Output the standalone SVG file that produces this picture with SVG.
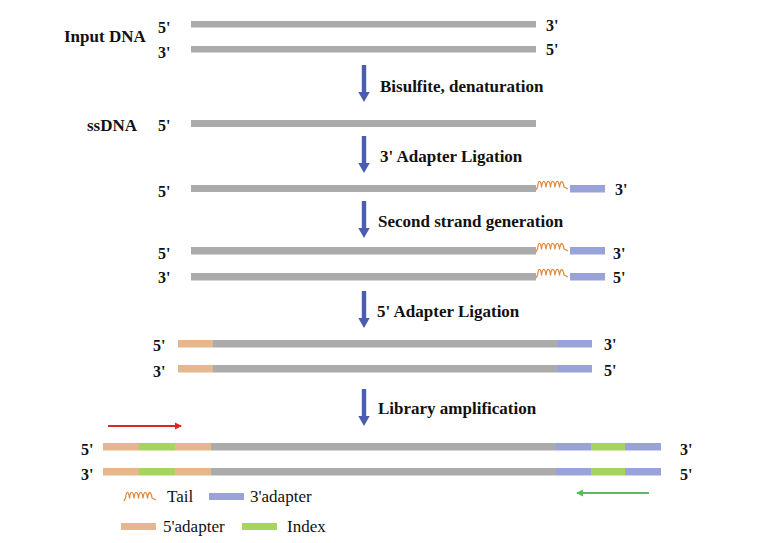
<svg xmlns="http://www.w3.org/2000/svg" xmlns:xlink="http://www.w3.org/1999/xlink" width="770" height="543" viewBox="0 0 770 543" font-family="'Liberation Serif','Times New Roman',serif">
<style>
text{font-family:"Liberation Serif","Times New Roman",serif;fill:#111}
.b{font-weight:bold;font-size:17px}
.e{font-weight:bold;font-size:16px}
.lg{font-size:17px}
.g{fill:#ababab}
.o{fill:#e6b68c}
.u{fill:#99a3da}
.n{fill:#a6d45c}
.tail{fill:none;stroke:#e08a40;stroke-width:1.3;stroke-linejoin:round}
.down{fill:#4b5db0}
</style>
<defs>
<path id="tl" class="tail" d="M0 10 L1.5 7 C2.5 -0.5 4.5 -0.5 5.5 7 C6.5 -0.5 9 -0.5 10 7 C11 -0.5 13.5 -0.5 14.5 7 C15.5 -0.5 18 -0.5 19 7 C20 -0.5 22.5 -0.5 23.5 7 C24.5 0 27 0 28 7 L32 9"/>
<path id="dn" class="down" d="M-2.2 0 H2.2 V27 H5.7 L0 37 L-5.7 27 H-2.2 Z"/>
<marker id="ra" markerWidth="8" markerHeight="8" refX="6" refY="4" orient="auto" markerUnits="userSpaceOnUse"><path d="M0 0.5 L7 4 L0 7.5 Z" fill="#e02424"/></marker>
<marker id="ga" markerWidth="8" markerHeight="8" refX="6" refY="4" orient="auto" markerUnits="userSpaceOnUse"><path d="M0 0.5 L7 4 L0 7.5 Z" fill="#5cb85c"/></marker>
</defs>

<g id="input-dna">
<text class="b" x="64" y="42">Input DNA</text>
<text class="e" x="158" y="33">5'</text>
<text class="e" x="158" y="58">3'</text>
<rect class="g" x="191" y="21" width="345" height="6.5"/>
<rect class="g" x="191" y="46" width="345" height="6.5"/>
<text class="e" x="546" y="31">3'</text>
<text class="e" x="546" y="55">5'</text>
</g>

<g id="ssdna">
<text class="b" x="87" y="131">ssDNA</text>
<text class="e" x="158" y="131">5'</text>
<rect class="g" x="191" y="120" width="345" height="7"/>
</g>

<g id="adapter3">
<text class="e" x="158" y="197">5'</text>
<rect class="g" x="191" y="185" width="345" height="7"/>
<use href="#tl" x="536" y="180"/>
<rect class="u" x="570" y="185" width="35" height="7.5"/>
<text class="e" x="615" y="195">3'</text>
</g>

<g id="second-strand">
<text class="e" x="158" y="259">5'</text>
<rect class="g" x="191" y="247" width="345" height="7.5"/>
<use href="#tl" x="536" y="242"/>
<rect class="u" x="570" y="247" width="35" height="7.5"/>
<text class="e" x="613" y="259">3'</text>
<text class="e" x="158" y="283">3'</text>
<rect class="g" x="191" y="273" width="345" height="7.5"/>
<use href="#tl" x="536" y="268"/>
<rect class="u" x="570" y="273" width="35" height="7.5"/>
<text class="e" x="613" y="283">5'</text>
</g>

<g id="adapter5">
<text class="e" x="153" y="351">5'</text>
<rect class="o" x="178" y="340" width="35" height="7.5"/>
<rect class="g" x="213" y="340" width="344" height="7.5"/>
<rect class="u" x="557" y="340" width="35" height="7.5"/>
<text class="e" x="604" y="350">3'</text>
<text class="e" x="153" y="377">3'</text>
<rect class="o" x="178" y="365" width="35" height="7.5"/>
<rect class="g" x="213" y="365" width="344" height="7.5"/>
<rect class="u" x="557" y="365" width="35" height="7.5"/>
<text class="e" x="604" y="376">5'</text>
</g>

<g id="library">
<text class="e" x="81" y="455">5'</text>
<rect class="o" x="103" y="443" width="36" height="7.5"/>
<rect class="n" x="139" y="443" width="36" height="7.5"/>
<rect class="o" x="175" y="443" width="36" height="7.5"/>
<rect class="g" x="211" y="443" width="345" height="7.5"/>
<rect class="u" x="556" y="443" width="35" height="7.5"/>
<rect class="n" x="591" y="443" width="34" height="7.5"/>
<rect class="u" x="625" y="443" width="36" height="7.5"/>
<text class="e" x="680" y="455">3'</text>
<text class="e" x="81" y="480">3'</text>
<rect class="o" x="103" y="468" width="36" height="7.5"/>
<rect class="n" x="139" y="468" width="36" height="7.5"/>
<rect class="o" x="175" y="468" width="36" height="7.5"/>
<rect class="g" x="211" y="468" width="345" height="7.5"/>
<rect class="u" x="556" y="468" width="35" height="7.5"/>
<rect class="n" x="591" y="468" width="34" height="7.5"/>
<rect class="u" x="625" y="468" width="36" height="7.5"/>
<text class="e" x="680" y="480">5'</text>
</g>

<g id="connectors">
<use href="#dn" x="364" y="65"/>
<text class="b" x="380" y="92">Bisulfite, denaturation</text>
<use href="#dn" x="364" y="136"/>
<text class="b" x="380" y="162">3' Adapter Ligation</text>
<use href="#dn" x="364" y="201"/>
<text class="b" x="378" y="227">Second strand generation</text>
<use href="#dn" x="364" y="291"/>
<text class="b" x="377" y="317">5' Adapter Ligation</text>
<use href="#dn" x="364" y="389"/>
<text class="b" x="378" y="414">Library amplification</text>
<line x1="108" y1="426" x2="181" y2="426" stroke="#e02424" stroke-width="1.8" marker-end="url(#ra)"/>
<line x1="649" y1="493" x2="577" y2="493" stroke="#5cb85c" stroke-width="1.8" marker-end="url(#ga)"/>
</g>

<g id="legend">
<use href="#tl" x="124" y="491"/>
<text class="lg" x="167" y="502">Tail</text>
<rect class="u" x="209" y="493" width="35" height="7"/>
<text class="lg" x="250" y="502">3'adapter</text>
<rect class="o" x="121" y="523" width="35" height="7"/>
<text class="lg" x="163" y="532">5'adapter</text>
<rect class="n" x="242" y="523" width="35" height="7"/>
<text class="lg" x="287" y="532">Index</text>
</g>
</svg>
